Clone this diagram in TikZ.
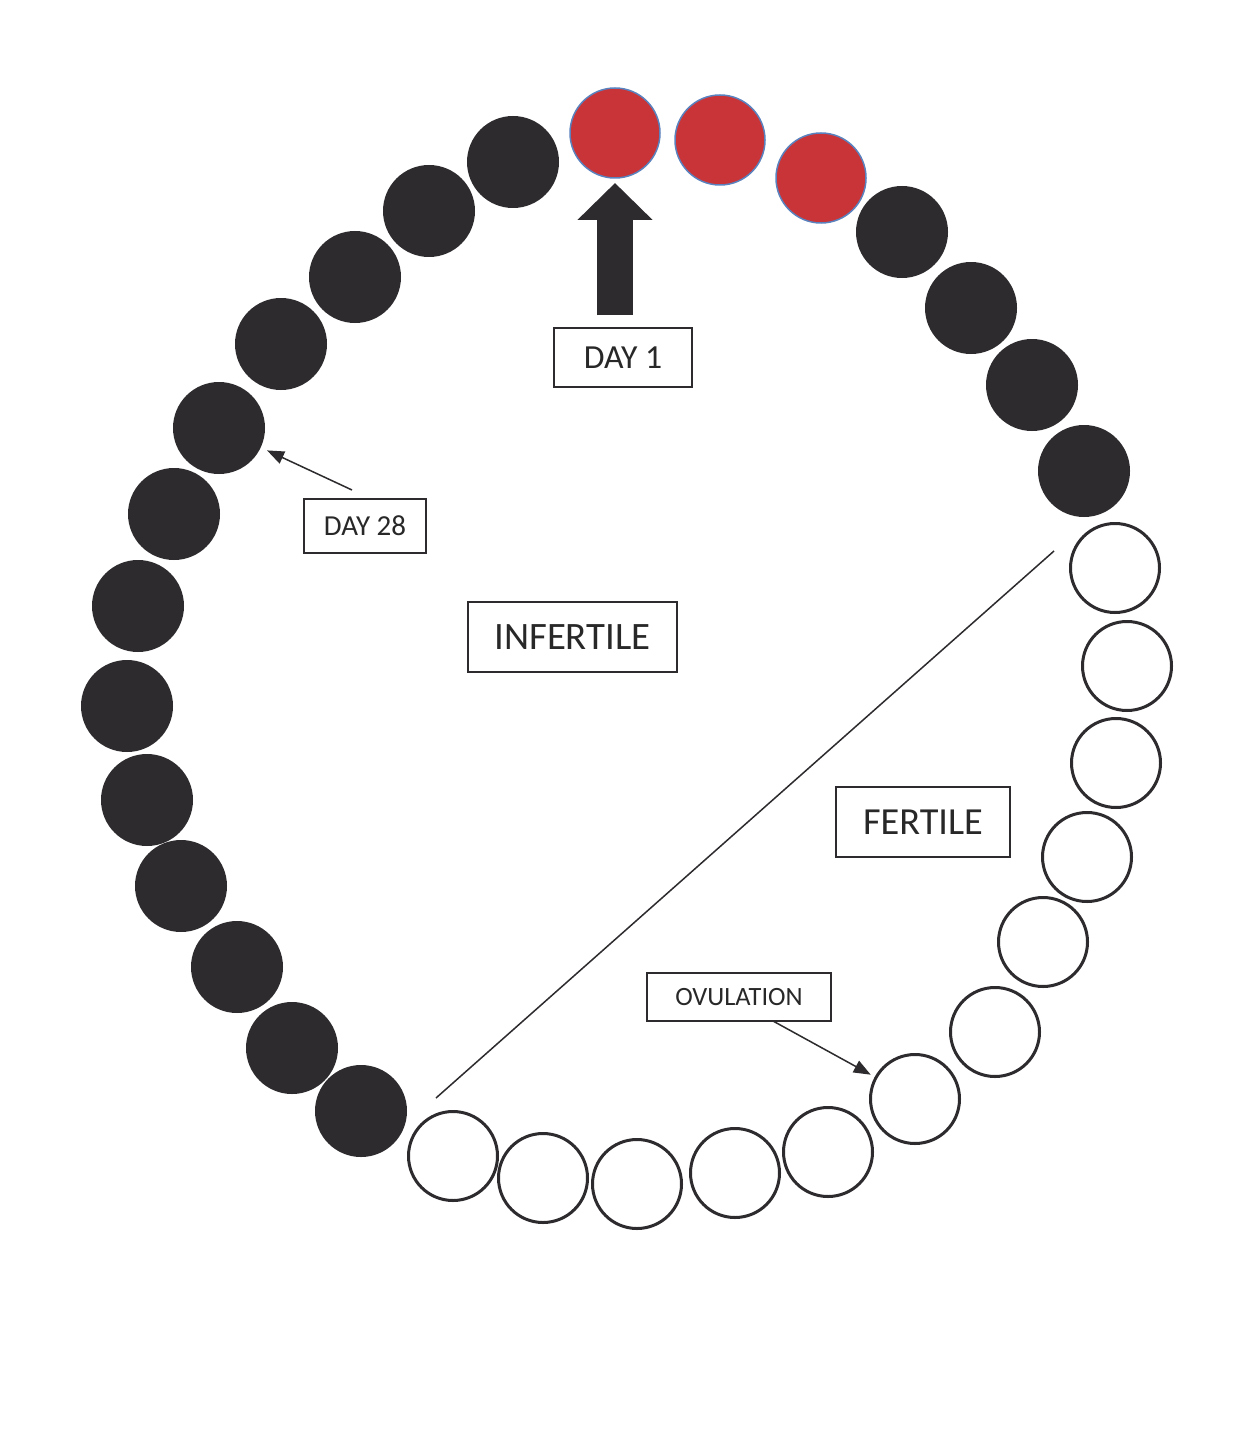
\documentclass[tikz,border=0pt]{standalone}
\usepackage{fontspec}
\setmainfont{Carlito}
\usetikzlibrary{arrows.meta}
\definecolor{ink}{RGB}{45,43,45}
\definecolor{txt}{RGB}{40,40,40}
\definecolor{menred}{RGB}{200,52,56}
\definecolor{menedge}{RGB}{90,130,190}
\begin{document}
\begin{tikzpicture}[x=1pt,y=-1pt,
  dark/.style={circle,fill=ink,minimum size=92pt,inner sep=0pt,outer sep=0pt},
  redday/.style={circle,fill=menred,draw=menedge,line width=1.5pt,minimum size=90pt,inner sep=0pt,outer sep=0pt},
  open/.style={circle,draw=ink,line width=3pt,minimum size=89pt,inner sep=0pt,outer sep=0pt},
  tag/.style={draw=ink,line width=1.6pt,text=txt,inner sep=0pt,outer sep=0pt,align=center},
  ptr/.style={line width=1.5pt,draw=ink,-{Triangle[length=17pt,width=13pt]}},
  bigarrow/.style={draw=ink,line width=36pt,-{Triangle[length=37pt,width=73pt]}}
]
\useasboundingbox[fill=white] (0,0) rectangle (1259,1431);
% red days
\node[redday] (r1) at (615,133) {};
\node[redday] (r2) at (720,140) {};
\node[redday] (r3) at (821,178) {};
% dark days on the right
\node[dark] (b1) at (902,232) {};
\node[dark] (b2) at (971,308) {};
\node[dark] (b3) at (1032,385) {};
\node[dark] (b4) at (1084,471) {};
% open (fertile) days
\node[open] (w1) at (1115,568) {};
\node[open] (w2) at (1127,666) {};
\node[open] (w3) at (1116,763) {};
\node[open] (w4) at (1087,857) {};
\node[open] (w5) at (1043,942) {};
\node[open] (w6) at (995,1032) {};
\node[open] (w7) at (915,1099) {};
\node[open] (w8) at (828,1152) {};
\node[open] (w9) at (735,1173) {};
\node[open] (w10) at (637,1184) {};
\node[open] (w11) at (543,1178) {};
\node[open] (w12) at (453,1156) {};
% dark days on the left
\node[dark] (l1) at (361,1111) {};
\node[dark] (l2) at (292,1048) {};
\node[dark] (l3) at (237,967) {};
\node[dark] (l4) at (181,886) {};
\node[dark] (l5) at (147,800) {};
\node[dark] (l6) at (127,706) {};
\node[dark] (l7) at (138,606) {};
\node[dark] (l8) at (174,514) {};
\node[dark] (l9) at (219,428) {};
\node[dark] (l10) at (281,344) {};
\node[dark] (l11) at (355,277) {};
\node[dark] (l12) at (429,211) {};
\node[dark] (l13) at (513,162) {};
% labels
\node[tag,minimum width=138pt,minimum height=59pt,font=\fontsize{33.7}{40}\selectfont] (day1) at (623,357.5) {DAY 1};
\node[tag,minimum width=122pt,minimum height=54pt,font=\fontsize{29}{34}\selectfont] (day28) at (365,526) {DAY 28};
\node[tag,minimum width=209pt,minimum height=70pt,font=\fontsize{38.8}{46}\selectfont] (infertile) at (572.5,637) {INFERTILE};
\node[tag,minimum width=174pt,minimum height=70pt,font=\fontsize{38.3}{46}\selectfont] (fertile) at (923,822) {FERTILE};
\node[tag,minimum width=184pt,minimum height=48pt,font=\fontsize{26.4}{32}\selectfont] (ovulation) at (739,997) {OVULATION};
% connectors
\draw[bigarrow,shorten <=13pt,shorten >=5pt] (day1.north -| r1.south) -- (r1.south);
\coordinate (t28) at (352,490);
\draw[ptr,shorten >=7pt] (t28) -- (l9);
\draw[ptr,shorten >=6pt] ([xshift=34pt]ovulation.south) -- (w7);
% separator
\coordinate (s1) at (436,1098);
\coordinate (s2) at (1054,551);
\draw[ink,line width=1.5pt] (s1) -- (s2);
\end{tikzpicture}
\end{document}
